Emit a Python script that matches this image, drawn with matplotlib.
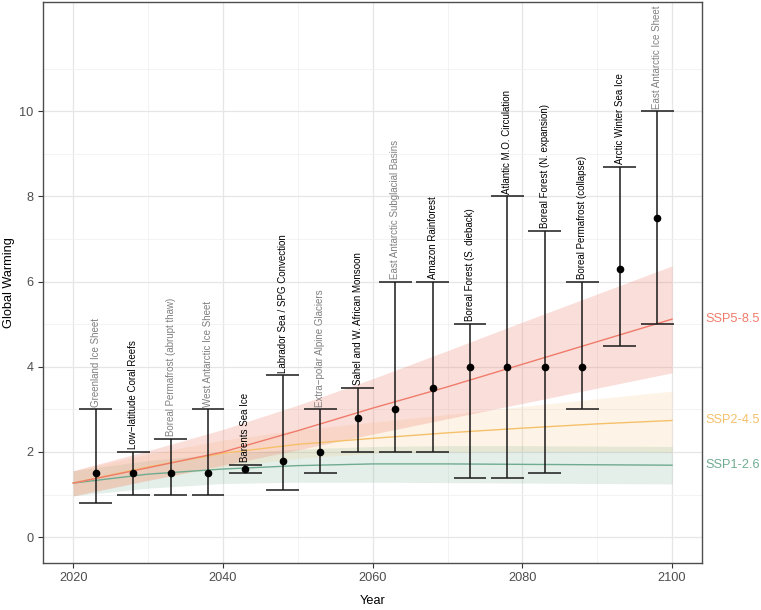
"""Tipping elements vs. warming under SSP scenarios."""
import matplotlib
matplotlib.use("Agg")
import matplotlib.pyplot as plt
import matplotlib.transforms as mtransforms

plt.rcParams["font.family"] = ["Liberation Sans", "DejaVu Sans"]

# tipping elements: label, year shown, central estimate and range
elements = [
    "Greenland Ice Sheet",
    "Low\u2212latitude Coral Reefs",
    "Boreal Permafrost (abrupt thaw)",
    "West Antarctic Ice Sheet",
    "Barents Sea Ice",
    "Labrador Sea / SPG Convection",
    "Extra\u2212polar Alpine Glaciers",
    "Sahel and W. African Monsoon",
    "East Antarctic Subglacial Basins",
    "Amazon Rainforest",
    "Boreal Forest (S. dieback)",
    "Atlantic M.O. Circulation",
    "Boreal Forest (N. expansion)",
    "Boreal Permafrost (collapse)",
    "Arctic Winter Sea Ice",
    "East Antarctic Ice Sheet",
]
el_years = [2023, 2028, 2033, 2038, 2043, 2048, 2053, 2058,
            2063, 2068, 2073, 2078, 2083, 2088, 2093, 2098]
el_mid = [1.5, 1.5, 1.5, 1.5, 1.6, 1.8, 2.0, 2.8,
          3.0, 3.5, 4.0, 4.0, 4.0, 4.0, 6.3, 7.5]
el_low = [0.8, 1.0, 1.0, 1.0, 1.5, 1.1, 1.5, 2.0,
          2.0, 2.0, 1.4, 1.4, 1.5, 3.0, 4.5, 5.0]
el_high = [3.0, 2.0, 2.3, 3.0, 1.7, 3.8, 3.0, 3.5,
           6.0, 6.0, 5.0, 8.0, 7.2, 6.0, 8.7, 10.0]
el_regional = [False, True, False, False, True, True, False, True,
               False, True, True, True, True, True, True, False]

# scenario projections
proj_years = [2020, 2030, 2040, 2050, 2060, 2070, 2080, 2090, 2100]
ssp126_mid = [1.27, 1.48, 1.60, 1.68, 1.72, 1.72, 1.71, 1.70, 1.69]
ssp126_lo = [0.97, 1.15, 1.26, 1.29, 1.29, 1.28, 1.27, 1.26, 1.25]
ssp126_hi = [1.56, 1.80, 1.96, 2.07, 2.13, 2.15, 2.15, 2.14, 2.13]
ssp245_mid = [1.27, 1.65, 1.97, 2.18, 2.32, 2.45, 2.56, 2.66, 2.74]
ssp245_lo = [0.97, 1.35, 1.65, 1.85, 1.97, 2.00, 2.01, 2.01, 2.00]
ssp245_hi = [1.56, 1.95, 2.28, 2.52, 2.70, 2.88, 3.07, 3.25, 3.43]
ssp585_mid = [1.27, 1.63, 2.00, 2.50, 3.03, 3.53, 4.06, 4.59, 5.12]
ssp585_lo = [0.97, 1.33, 1.69, 2.05, 2.42, 2.78, 3.14, 3.50, 3.86]
ssp585_hi = [1.56, 2.03, 2.53, 3.10, 3.72, 4.38, 5.05, 5.71, 6.37]

scenarios = [
    ("SSP1-2.6", ssp126_mid, ssp126_lo, ssp126_hi, "#6FAB90", 0.18),
    ("SSP2-4.5", ssp245_mid, ssp245_lo, ssp245_hi, "#F5C06A", 0.16),
    ("SSP5-8.5", ssp585_mid, ssp585_lo, ssp585_hi, "#EF7C6B", 0.25),
]

fig = plt.figure(figsize=(7.61, 6.10), dpi=100)
ax = fig.add_axes([0.0569, 0.0775, 0.8656, 0.9195])

ax.set_xlim(2016, 2104)
ax.set_ylim(-0.6, 12.57)
ax.set_xticks([2020, 2040, 2060, 2080, 2100])
ax.set_xticks([2030, 2050, 2070, 2090], minor=True)
ax.set_yticks([0, 2, 4, 6, 8, 10])
ax.set_yticks([1, 3, 5, 7, 9, 11], minor=True)
ax.grid(which="major", color="#E6E6E6", lw=0.9)
ax.grid(which="minor", color="#F1F1F1", lw=0.6)
ax.set_axisbelow(True)
ax.tick_params(which="major", direction="out", length=3.5, width=0.8,
               color="#333333", labelcolor="#4D4D4D", labelsize=9.2)
ax.tick_params(which="minor", length=0)
for sp in ax.spines.values():
    sp.set_color("#4D4D4D")
    sp.set_linewidth(1.0)

# ribbons and central lines
lab_tr = mtransforms.blended_transform_factory(ax.transAxes, ax.transData)
for name, mid, lo, hi, col, alpha in scenarios:
    ax.fill_between(proj_years, lo, hi, color=col, alpha=alpha, lw=0, zorder=1)
    ax.plot(proj_years, mid, color=col, lw=1.0, zorder=2)
    ax.text(1.005, mid[-1], name, transform=lab_tr, color=col,
            fontsize=9.2, ha="left", va="center", clip_on=False)

# tipping element ranges
cap = 2.2
ax.vlines(el_years, el_low, el_high, color="#1A1A1A", lw=1.1, zorder=3)
ax.hlines(el_low, [x - cap for x in el_years], [x + cap for x in el_years],
          color="#1A1A1A", lw=1.1, zorder=3)
ax.hlines(el_high, [x - cap for x in el_years], [x + cap for x in el_years],
          color="#1A1A1A", lw=1.1, zorder=3)
ax.plot(el_years, el_mid, "o", color="black", ms=4.5, zorder=4)

for name, x, top, regional in zip(elements, el_years, el_high, el_regional):
    ax.annotate(name, xy=(x, top), xytext=(0, 2), textcoords="offset points",
                rotation=90, ha="center", va="bottom", fontsize=7,
                color="black" if regional else "#808080")

ax.set_xlabel("Year", fontsize=9.2, color="black")
ax.set_ylabel("Global Warming", fontsize=9.2, color="black")
ax.xaxis.set_label_coords(0.5, -0.058)
ax.yaxis.set_label_coords(-0.043, 0.5)

fig.savefig("out.png", dpi=100)
plt.close(fig)
